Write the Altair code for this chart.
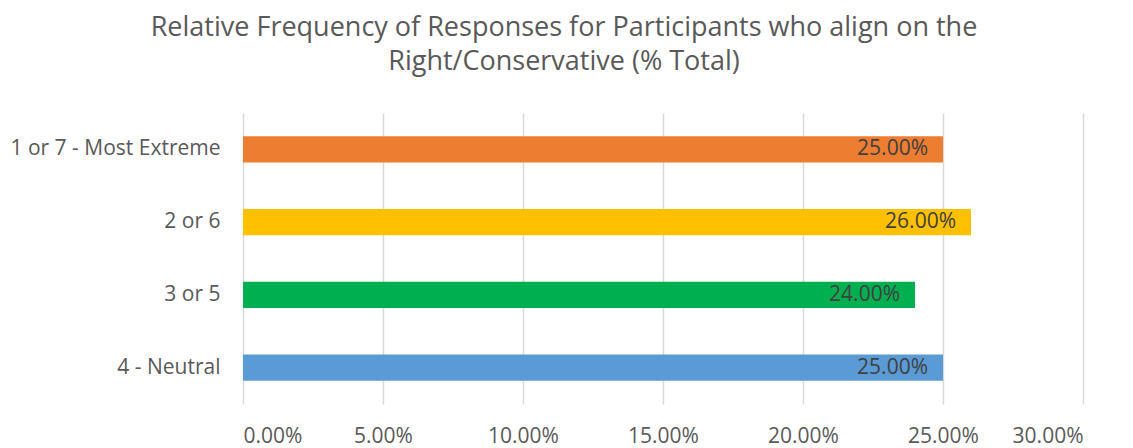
import altair as alt
import pandas as pd

categories = ["1 or 7 - Most Extreme", "2 or 6", "3 or 5", "4 - Neutral"]
values = [0.25, 0.26, 0.24, 0.25]
colors = ["#ED7D31", "#FFC000", "#00B050", "#5B9BD5"]
tick_values = [0.0, 0.05, 0.10, 0.15, 0.20, 0.25, 0.30]

df = pd.DataFrame({"category": categories, "value": values, "color": colors})

FONT = "Open Sans"

y = alt.Y(
    "category:N",
    sort=categories,
    title=None,
    scale=alt.Scale(paddingInner=0.64, paddingOuter=0.32),
    axis=alt.Axis(
        domain=False, ticks=False, grid=False, labelFont=FONT, labelFontSize=21,
        labelColor="#595959", labelPadding=23, labelLimit=300,
    ),
)
x = alt.X(
    "value:Q",
    title=None,
    scale=alt.Scale(domain=[0, 0.30], nice=False),
    axis=alt.Axis(
        values=tick_values, format=".2%", domain=False, ticks=False, grid=True,
        gridColor="#D9D9D9", gridWidth=1.5, labelFont=FONT, labelFontSize=21,
        labelColor="#595959", labelPadding=21,
    ),
)

bars = alt.Chart(df).mark_bar().encode(
    x=x, y=y, color=alt.Color("color:N", scale=None)
)
labels = alt.Chart(df).mark_text(
    align="right", baseline="middle", dx=-15, font=FONT, fontSize=21, color="#404040"
).encode(
    x=alt.X("value:Q"), y=alt.Y("category:N", sort=categories),
    text=alt.Text("value:Q", format=".2%"),
)

chart = (bars + labels).properties(
    width=840,
    height=291,
    autosize=alt.AutoSizeParams(type="none"),
    padding={"left": 243, "top": 113, "right": 50, "bottom": 44},
    title=alt.TitleParams(
        text=["Relative Frequency of Responses for Participants who align on the",
              "Right/Conservative (% Total)"],
        font=FONT, fontSize=27, fontWeight="normal", color="#595959",
        anchor="middle", dx=-99, offset=37, lineHeight=34,
    ),
).configure_view(stroke=None)

chart.save("out.html", embed_options={"renderer": "svg", "actions": False})
